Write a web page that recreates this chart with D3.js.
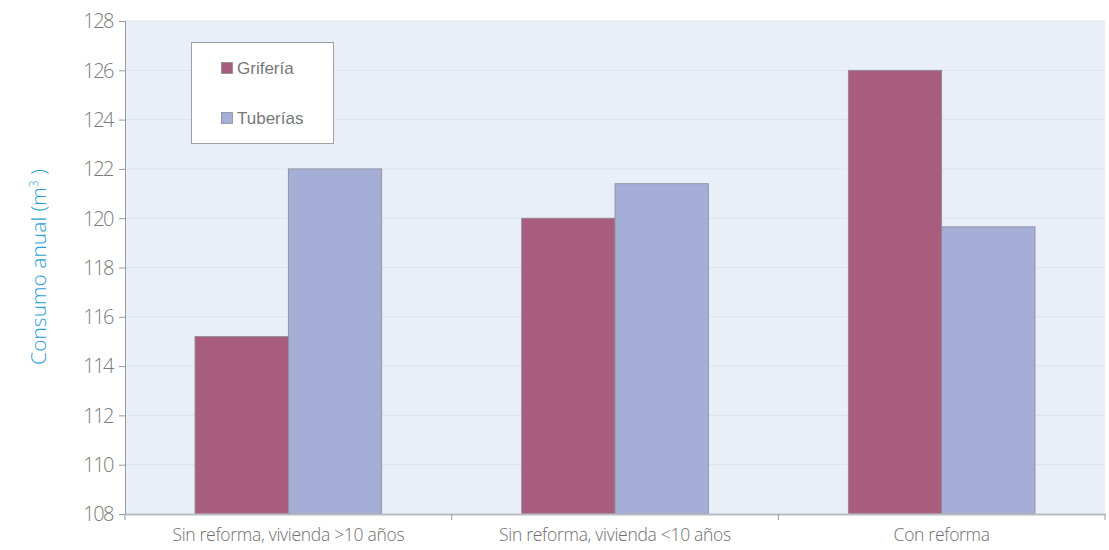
<!DOCTYPE html>
<html><head><meta charset="utf-8">
<script src="https://cdn.jsdelivr.net/npm/d3@7"></script>
<style>body{margin:0;background:#fff}svg{display:block}</style>
</head><body>
<svg id="c" width="1109" height="550"></svg>
<script>
const categories = ["Sin reforma, vivienda >10 años", "Sin reforma, vivienda <10 años", "Con reforma"];
const seriesNames = ["Grifería", "Tuberías"];
const griferia = [115.2, 120.0, 126.0];
const tuberias = [122.0, 121.4, 119.65];
const yTicks = [108, 110, 112, 114, 116, 118, 120, 122, 124, 126, 128];
const colors = ["#a85c7e", "#a4aed6"];

const svg = d3.select("#c");
const m = {l:125, r:1105, t:21, b:514};
const x = d3.scaleBand().domain(categories).range([m.l, m.r]).paddingInner(0).paddingOuter(0);
const xs = d3.scaleBand().domain(seriesNames).range([0, x.bandwidth()]).paddingInner(0).paddingOuter(0.75);
const y = d3.scaleLinear().domain([108, 128]).range([m.b, m.t]);

svg.append("rect").attr("x", m.l).attr("y", m.t).attr("width", m.r - m.l).attr("height", m.b - m.t).attr("fill", "#e9eff8");

svg.append("g").selectAll("line").data(yTicks.slice(1)).join("line")
  .attr("x1", m.l).attr("x2", m.r).attr("y1", d => y(d)).attr("y2", d => y(d))
  .attr("stroke", "#dbe3ee").attr("stroke-width", 1);

const data = categories.map((c, i) => ({c, vals: [griferia[i], tuberias[i]]}));
svg.append("g").selectAll("g").data(data).join("g")
  .attr("transform", d => `translate(${x(d.c)},0)`)
  .selectAll("rect").data(d => d.vals.map((v, j) => ({s: seriesNames[j], v, j}))).join("rect")
  .attr("x", d => xs(d.s)).attr("width", xs.bandwidth())
  .attr("y", d => y(d.v)).attr("height", d => y(108) - y(d.v))
  .attr("fill", d => colors[d.j]).attr("stroke", "#8a8a96").attr("stroke-width", 0.8);

const yAxis = svg.append("g").attr("transform", `translate(${m.l},0)`)
  .call(d3.axisLeft(y).tickValues(yTicks).tickSize(6).tickPadding(6).tickFormat(d3.format("d")));
yAxis.select(".domain").attr("stroke", "#999");
yAxis.selectAll(".tick line").attr("stroke", "#999");
yAxis.selectAll("text").attr("fill", "#7a7a7a").attr("font-family", "Open Sans, sans-serif").attr("font-size", 20).attr("font-weight", 300).attr("letter-spacing", -1.5).attr("dy", "0.34em");

const xAxis = svg.append("g").attr("transform", `translate(0,${m.b})`)
  .call(d3.axisBottom(x).tickSize(0).tickPadding(15));
xAxis.select(".domain").attr("stroke", "#b8bcc4").attr("stroke-width", 2);
xAxis.selectAll("text").attr("fill", "#6e6e6e").attr("font-family", "Open Sans, sans-serif").attr("font-size", 17.5).attr("font-weight", 300).attr("letter-spacing", -0.3);
const bounds = [m.l, ...categories.map(c => x(c) + x.bandwidth())];
svg.append("g").selectAll("line").data(bounds).join("line")
  .attr("x1", d => d).attr("x2", d => d).attr("y1", m.b).attr("y2", m.b + 6)
  .attr("stroke", "#999");

svg.append("text").attr("transform", "translate(46,267) rotate(-90)")
  .attr("text-anchor", "middle").attr("fill", "#2a9fd6")
  .attr("font-family", "Open Sans, sans-serif").attr("font-size", 21).attr("font-weight", 300)
  .html('Consumo anual (m<tspan dy="-8" font-size="12">3</tspan><tspan dy="8"> )</tspan>');

const lg = svg.append("g");
lg.append("rect").attr("x", 191.5).attr("y", 42.5).attr("width", 142).attr("height", 101)
  .attr("fill", "#fff").attr("stroke", "#a0a0a0");
seriesNames.forEach((s, i) => {
  const yy = 68 + i * 50;
  lg.append("rect").attr("x", 221.5).attr("y", yy - 5.5).attr("width", 11).attr("height", 11)
    .attr("fill", colors[i]).attr("stroke", "#8a8a96").attr("stroke-width", 0.8);
  lg.append("text").attr("x", 237).attr("y", yy + 6).text(s)
    .attr("fill", "#777").attr("font-family", "Liberation Sans, Arial, sans-serif").attr("font-size", 17);
});
</script>
</body></html>
